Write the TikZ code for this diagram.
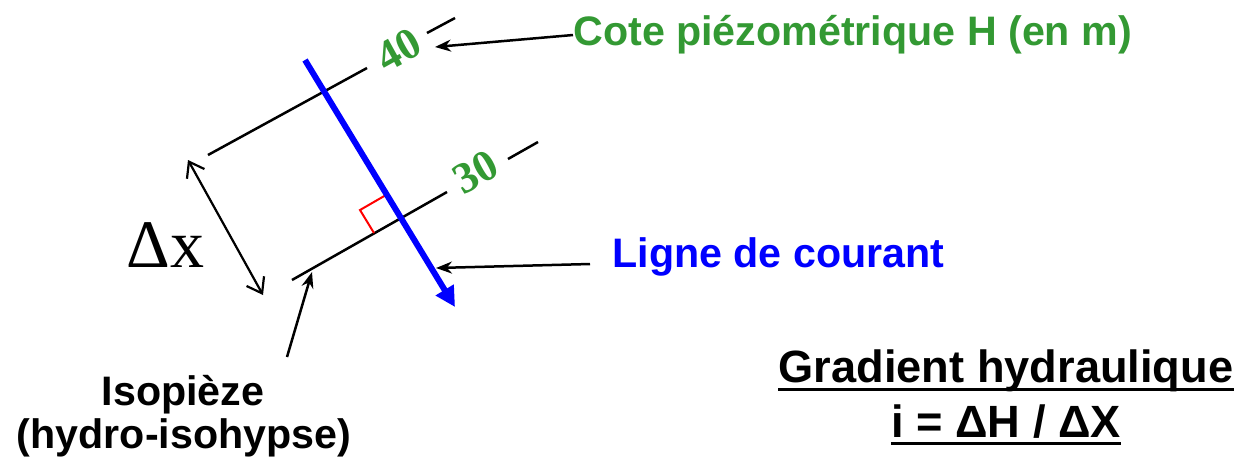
\documentclass[tikz,border=0pt]{standalone}
\usepackage{fontspec}
\setmainfont{Liberation Serif}
\setsansfont{Liberation Sans}
\usetikzlibrary{arrows.meta}
\definecolor{cotegreen}{RGB}{51,153,51}
\definecolor{flowblue}{RGB}{0,0,255}
\definecolor{anglered}{RGB}{255,0,0}
\tikzset{
  isoline/.style={line width=1.25pt, black},
  pointer/.style={line width=1.25pt, black, -{Stealth[length=8pt,width=6pt]}},
  span/.style={line width=1.1pt, black, {Straight Barb[length=7pt,width=10pt]}-{Straight Barb[length=7pt,width=10pt]}},
  flow/.style={line width=3pt, flowblue, -{Triangle[length=10pt,width=10pt]}},
  level/.style={text=cotegreen, font=\rmfamily\bfseries\fontsize{22pt}{24pt}\selectfont, inner sep=0pt, rotate=29},
  label/.style={font=\sffamily\bfseries\fontsize{20.6pt}{24pt}\selectfont, inner sep=0pt},
  formula/.style={font=\sffamily\bfseries\fontsize{22.6pt}{26pt}\selectfont, inner sep=0pt, anchor=base},
}
\begin{document}
\begin{tikzpicture}[x=0.5pt, y=-0.5pt]
\useasboundingbox (0,0) rectangle (1247,468);

% isopiezic lines
\coordinate (a1) at (208,155);
\coordinate (a2) at (367,68);
\coordinate (a3) at (427,33);
\coordinate (a4) at (455,18);
\coordinate (b1) at (292,280);
\coordinate (b2) at (447,192);
\coordinate (b3) at (508,159);
\coordinate (b4) at (538,142);
\draw[isoline] (a1) -- (a2);
\draw[isoline] (a3) -- (a4);
\draw[isoline] (b1) -- (b2);
\draw[isoline] (b3) -- (b4);

% head values
\node[level] (h40) at (399,50) {40};
\node[level] (h30) at (476,172) {30};

% right-angle mark
\coordinate (r1) at (386,195);
\coordinate (r0) at (360,210);
\coordinate (r2) at (374,233);
\draw[anglered, line width=1pt] (r1) -- (r0) -- (r2);

% flow line
\coordinate (f1) at (305,60);
\coordinate (f2) at (455,307);
\draw[flow] (f1) -- (f2);

% distance between isopiezes
\coordinate (d1) at (188,160);
\coordinate (d2) at (263,295);
\draw[span] (d1) -- (d2);
\node[font=\rmfamily\fontsize{34pt}{36pt}\selectfont, inner sep=0pt, anchor=base west] (dx) at (126,267) {Δx};

% labels
\node[label, text=cotegreen, anchor=base west] (cote) at (573,45) {Cote piézométrique H (en m)};
\coordinate (coteTip) at (435,47);
\draw[pointer] ([yshift=5pt]cote.base west) -- (coteTip);

\node[label, text=flowblue, anchor=base west] (ligne) at (612,267) {Ligne de courant};
\coordinate (ligneTip) at (436,268);
\draw[pointer] ([xshift=-11pt,yshift=1.5pt]ligne.base west) -- (ligneTip);

\node[label, anchor=base] (iso) at (183,405) {Isopièze};
\node[label, anchor=base] (isoh) at (184,448) {(hydro-isohypse)};
\coordinate (isoTail) at (287,357);
\coordinate (isoTip) at (312,272);
\draw[pointer] (isoTail) -- (isoTip);

% hydraulic gradient
\node[formula] (grad) at (1006,382) {Gradient hydraulique};
\node[formula] (eq) at (1006,437) {i = ΔH / ΔX};
\draw[line width=1.5pt] ([yshift=-3.5pt]grad.base west) -- ([yshift=-3.5pt]grad.base east);
\draw[line width=1.5pt] ([yshift=-3pt]eq.base west) -- ([yshift=-3pt]eq.base east);
\end{tikzpicture}
\end{document}
